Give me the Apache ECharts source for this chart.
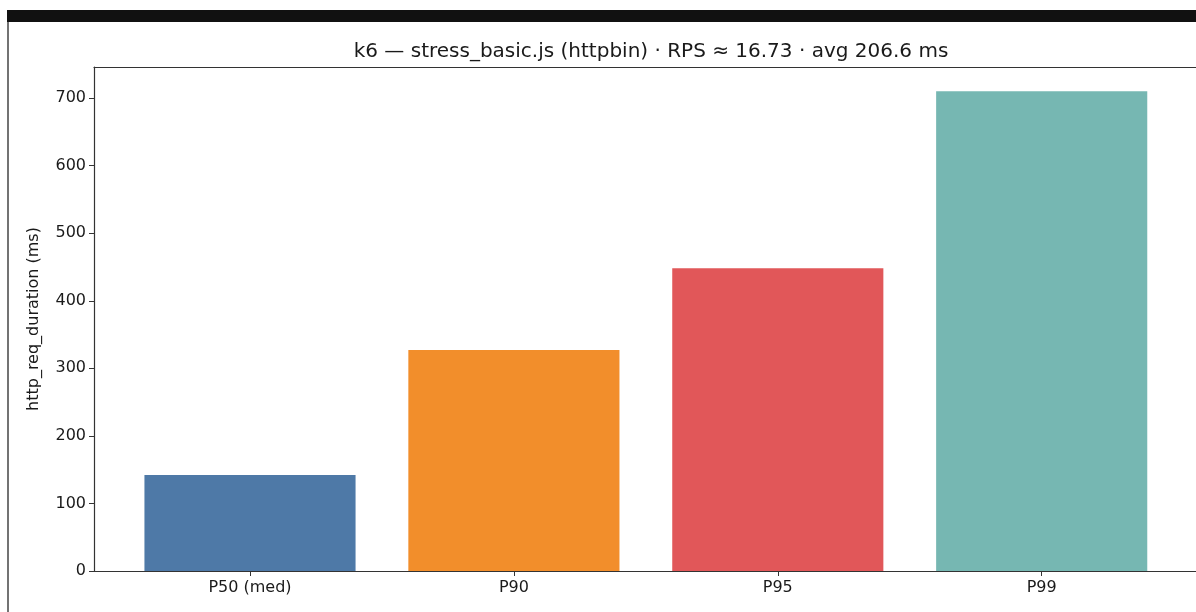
<!DOCTYPE html>
<html><head><meta charset="utf-8">
<script src="https://cdn.jsdelivr.net/npm/echarts@6/dist/echarts.min.js"></script>
<style>html,body{margin:0;padding:0;background:#fff}#c{width:1196px;height:612px}</style>
</head><body><div id="c"></div>
<script>
const categories = ['P50 (med)', 'P90', 'P95', 'P99'];
const durations = [142, 327, 448, 710];
const barColors = ['#4e79a7', '#f28e2b', '#e15759', '#76b7b2'];
const yTicks = [0, 100, 200, 300, 400, 500, 600, 700];
const titleText = 'k6 — stress_basic.js (httpbin) · RPS ≈ 16.73 · avg 206.6 ms';
const yName = 'http_req_duration (ms)';

const FONT = 'DejaVu Sans';
const plotTop = 67, plotBottomY = 571, plotLeft = 94;
const catSpacing = 263.9, firstCenter = 250;
const dataLeft = firstCenter - catSpacing / 2;
const yMax = 746;

const chart = echarts.init(document.getElementById('c'), null, {renderer: 'canvas'});
chart.setOption({
  backgroundColor: '#fff',
  animation: false,
  title: {
    text: titleText, left: 646, top: 37, textAlign: 'center',
    textStyle: {fontFamily: FONT, fontSize: 20, fontWeight: 'normal', color: '#1a1a1a'}
  },
  graphic: [
    {type: 'rect', shape: {x: 7, y: 10, width: 1189, height: 12}, style: {fill: '#111'}},
    {type: 'line', shape: {x1: 8, y1: 22, x2: 8, y2: 612}, style: {stroke: '#444', lineWidth: 1.5}}
  ],
  grid: [
    {left: plotLeft, top: plotTop, right: -20, height: plotBottomY - plotTop,
     show: false, containLabel: false},
    {left: dataLeft, top: plotTop, width: catSpacing * categories.length, height: plotBottomY - plotTop, containLabel: false}
  ],
  xAxis: [
    {gridIndex: 0, type: 'value', min: 0, max: 1, position: 'bottom',
     axisLine: {show: true, onZero: false, lineStyle: {color: '#333', width: 1.2}},
     axisTick: {show: false}, axisLabel: {show: false}, splitLine: {show: false}},
    {gridIndex: 1, type: 'category', data: categories,
     axisLine: {show: false},
     axisTick: {show: true, alignWithLabel: true, interval: 0, length: 5, lineStyle: {color: '#333'}},
     axisLabel: {fontFamily: FONT, fontSize: 16, color: '#1a1a1a', margin: 9, interval: 0}},
    {gridIndex: 0, type: 'value', min: 0, max: 1, position: 'top',
     axisLine: {show: true, onZero: false, lineStyle: {color: '#333', width: 1.2}},
     axisTick: {show: false}, axisLabel: {show: false}, splitLine: {show: false}}
  ],
  yAxis: [
    {gridIndex: 0, type: 'value', min: 0, max: yMax,
     name: yName, nameLocation: 'middle', nameGap: 52, nameRotate: 90,
     nameTextStyle: {fontFamily: FONT, fontSize: 16, color: '#1a1a1a'},
     axisLine: {show: true, onZero: false, lineStyle: {color: '#333', width: 1.2}},
     splitLine: {show: false},
     axisTick: {show: true, length: 5, lineStyle: {color: '#333'}, customValues: yTicks},
     axisLabel: {fontFamily: FONT, fontSize: 16, color: '#1a1a1a', margin: 8, customValues: yTicks}},
    {gridIndex: 1, type: 'value', min: 0, max: yMax, show: false, splitLine: {show: false}}
  ],
  series: [{
    type: 'bar', xAxisIndex: 1, yAxisIndex: 1,
    barWidth: '80%',
    data: durations.map((v, i) => ({value: v, itemStyle: {color: barColors[i]}}))
  }]
});
</script></body></html>
